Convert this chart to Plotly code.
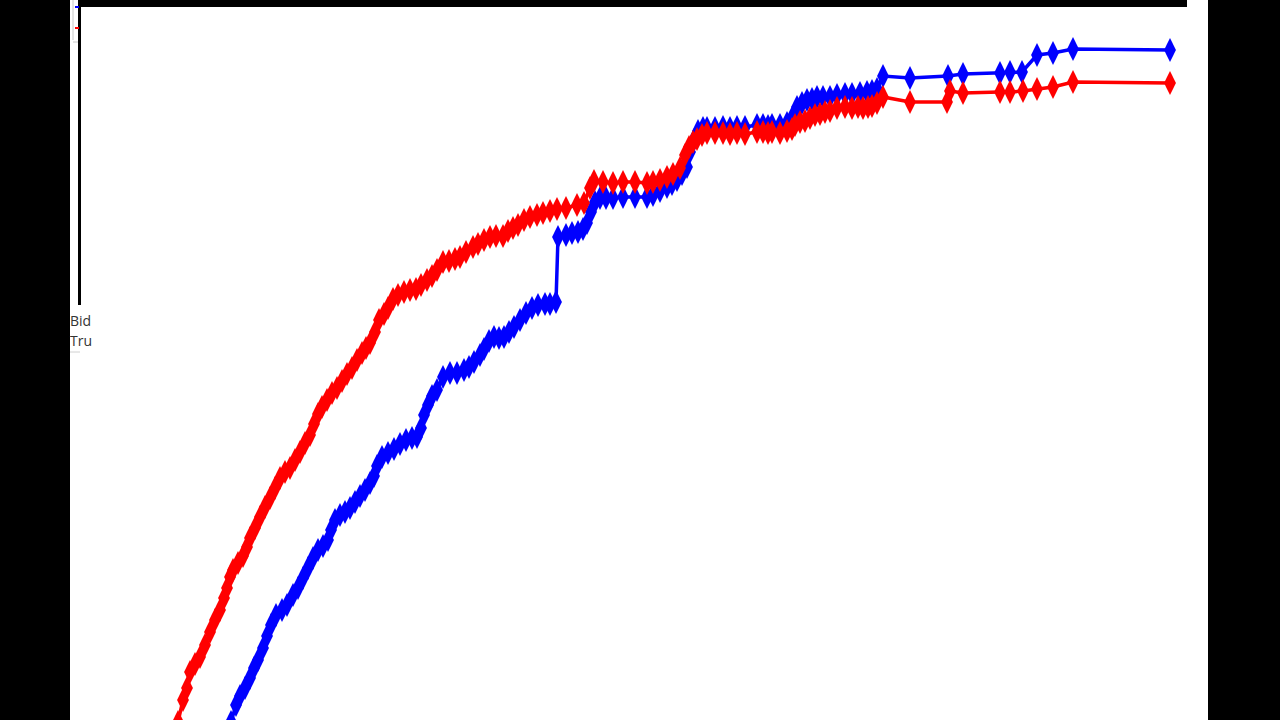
import plotly.graph_objects as go

# Red series ("True ...")
red_x = [108, 113, 117, 120, 125, 130, 135, 140, 145, 150, 154, 157, 160, 163, 168, 173, 177, 180, 185, 190,
         195, 200, 205, 210, 215, 220, 225, 230, 235, 240, 244, 248, 252, 257, 262, 267, 272, 277, 282, 287,
         292, 296, 300, 305, 309, 314, 318, 323, 328, 334, 340, 346, 351, 357, 362, 367, 373, 379, 385, 390,
         396, 403, 408, 414, 420, 426, 433, 438, 443, 448, 454, 460, 467, 473, 480, 487, 496, 507, 514, 520,
         524, 533, 543, 553, 565, 577, 583, 590, 597, 603, 610, 615, 619, 623, 627, 632, 637, 645, 653, 660,
         667, 675, 687, 693, 698, 702, 710, 717, 722, 725, 730, 735, 740, 745, 750, 755, 760, 767, 775, 782,
         788, 793, 798, 802, 807, 813, 840, 877, 880, 893, 930, 940, 953, 967, 983, 1003, 1100]
red_y = [-2, 20, 32, 48, 56, 63, 75, 88, 100, 110, 122, 132, 143, 150, 157, 164, 173, 182, 192, 203,
         213, 222, 232, 242, 248, 252, 260, 268, 277, 285, 296, 306, 313, 320, 327, 332, 339, 346, 352, 360,
         367, 372, 377, 388, 400, 406, 412, 421, 425, 428, 430, 431, 435, 440, 444, 450, 458, 459, 461, 463,
         468, 473, 476, 480, 483, 484, 484, 489, 492, 495, 500, 503, 505, 507, 509, 511, 512, 515, 517, 532,
         539, 538, 537, 538, 538, 537, 538, 540, 543, 546, 552, 565, 573, 578, 581, 585, 587, 587, 587, 586,
         587, 586, 588, 588, 587, 588, 587, 589, 591, 595, 598, 599, 602, 605, 606, 608, 609, 612, 613, 612,
         613, 612, 613, 614, 617, 623, 618, 618, 629, 627, 628, 628, 629, 631, 633, 638, 637]

# Blue series ("Bid...")
blue_x = [161, 166, 170, 175, 180, 184, 188, 193, 197, 201, 206, 212, 217, 223, 228, 233, 238, 243, 248, 253,
          258, 261, 265, 270, 275, 280, 285, 290, 295, 300, 304, 307, 312, 318, 324, 330, 336, 342, 347, 351,
          354, 358, 362, 367, 373, 380, 387, 394, 399, 404, 410, 414, 419, 424, 429, 434, 439, 444, 450, 456,
          462, 468, 475, 480, 486, 488, 496, 502, 508, 513, 517, 521, 525, 530, 536, 543, 553, 565, 577, 583,
          590, 597, 602, 607, 612, 617, 620, 624, 628, 633, 637, 645, 653, 660, 667, 675, 687, 693, 698, 702,
          710, 717, 722, 727, 732, 737, 742, 747, 753, 760, 767, 775, 782, 790, 797, 802, 807, 813, 840, 878,
          893, 930, 940, 952, 967, 983, 1003, 1100]
blue_y = [-2, 15, 24, 32, 42, 52, 60, 72, 84, 95, 105, 110, 115, 125, 132, 142, 152, 162, 170, 174,
          180, 190, 200, 205, 208, 212, 218, 224, 230, 237, 244, 254, 263, 267, 271, 276, 280, 282, 283, 292,
          305, 315, 324, 330, 343, 347, 347, 350, 353, 358, 365, 371, 379, 383, 382, 383, 388, 393, 400, 407,
          412, 415, 416, 416, 418, 483, 485, 487, 488, 491, 497, 508, 518, 522, 522, 522, 523, 523, 523, 525,
          529, 533, 536, 540, 546, 553, 568, 580, 589, 592, 592, 592, 593, 592, 593, 593, 595, 595, 594, 595,
          595, 597, 602, 613, 617, 620, 621, 623, 623, 623, 625, 626, 626, 627, 628, 629, 631, 644, 642, 644,
          646, 647, 648, 648, 665, 667, 671, 670]

legend_labels = ["Bid", "Tru"]

fig = go.Figure()
fig.add_trace(go.Scatter(
    x=blue_x, y=blue_y, mode="lines+markers",
    line=dict(color="#0000ff", width=3.5),
    marker=dict(symbol="diamond-tall", size=17, color="#0000ff", line=dict(width=0)),
    showlegend=False, hoverinfo="skip"))
fig.add_trace(go.Scatter(
    x=red_x, y=red_y, mode="lines+markers",
    line=dict(color="#ff0000", width=3.5),
    marker=dict(symbol="diamond-tall", size=17, color="#ff0000", line=dict(width=0)),
    showlegend=False, hoverinfo="skip"))

shapes = [
    # top frame bar
    dict(type="rect", xref="x", yref="y", x0=8, x1=1117, y0=713, y1=722,
         fillcolor="black", line=dict(width=0), layer="above"),
    # left frame line
    dict(type="rect", xref="x", yref="y", x0=8, x1=11, y0=415, y1=722,
         fillcolor="black", line=dict(width=0), layer="above"),
    # legend box border fragments
    dict(type="line", xref="x", yref="y", x0=3, x1=3, y0=680, y1=720,
         line=dict(color="#c8c8c8", width=1)),
    dict(type="line", xref="x", yref="y", x0=3, x1=8, y0=678, y1=678,
         line=dict(color="#c8c8c8", width=1)),
    dict(type="line", xref="x", yref="y", x0=0, x1=10, y0=368, y1=368,
         line=dict(color="#d0d0d0", width=1)),
    # legend samples
    dict(type="line", xref="x", yref="y", x0=5, x1=9, y0=713, y1=713,
         line=dict(color="#0000ff", width=2)),
    dict(type="line", xref="x", yref="y", x0=5, x1=9, y0=692, y1=692,
         line=dict(color="#ff0000", width=2)),
]

annotations = [
    dict(x=0, y=400, xref="x", yref="y", text=legend_labels[0], showarrow=False,
         xanchor="left", yanchor="middle", xshift=-2,
         font=dict(family="Liberation Sans Narrow, Open Sans", size=14, color="#333333")),
    dict(x=0, y=380, xref="x", yref="y", text=legend_labels[1], showarrow=False,
         xanchor="left", yanchor="middle", xshift=-2,
         font=dict(family="Liberation Sans Narrow, Open Sans", size=14, color="#333333")),
]

fig.update_layout(
    width=1280, height=720,
    margin=dict(l=70, r=72, t=0, b=0),
    paper_bgcolor="black", plot_bgcolor="white",
    xaxis=dict(range=[0, 1138], visible=False, fixedrange=True),
    yaxis=dict(range=[0, 720], visible=False, fixedrange=True),
    shapes=shapes, annotations=annotations,
)

fig.write_html(
    "out.html",
    config={"displayModeBar": False},
    post_script="document.body.style.margin='0';document.body.style.overflow='hidden';",
)
